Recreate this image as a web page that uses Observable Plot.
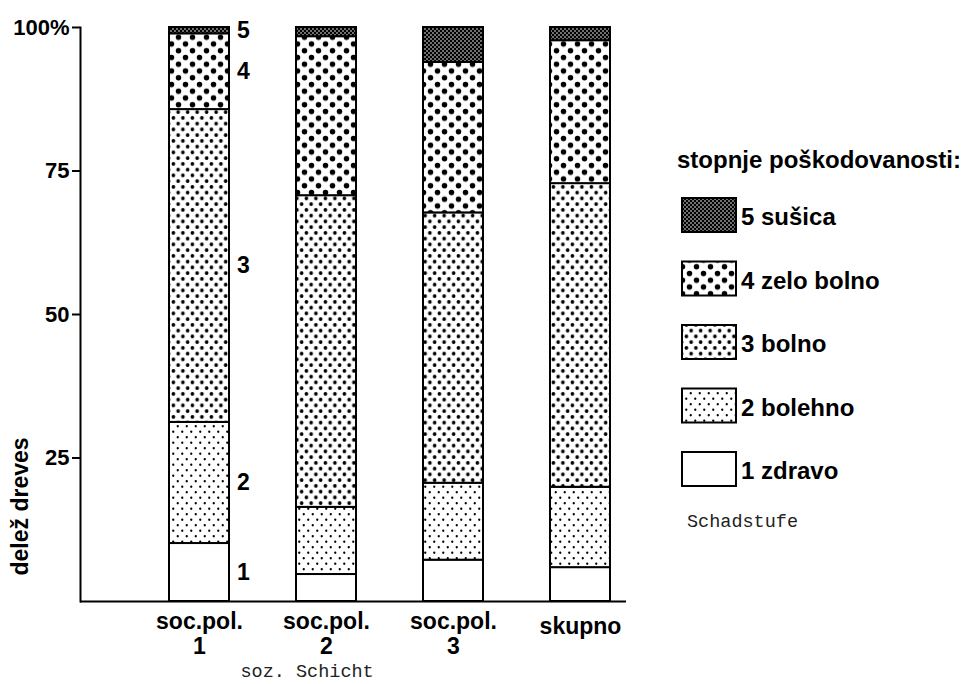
<!DOCTYPE html>
<html><head><meta charset="utf-8">
<script src="https://cdn.jsdelivr.net/npm/d3@7"></script>
<script src="https://cdn.jsdelivr.net/npm/@observablehq/plot@0.6"></script>
<style>
html,body{margin:0;padding:0;background:#fff;}
#wrap{position:relative;width:967px;height:684px;overflow:hidden;background:#fff;}
</style></head><body>
<div id="wrap"></div>
<script>
// ---- data ----
const categories = ["soc.pol. 1", "soc.pol. 2", "soc.pol. 3", "skupno"];
const stageCodes = ["1", "2", "3", "4", "5"];
const stageNames = ["1 zdravo", "2 bolehno", "3 bolno", "4 zelo bolno", "5 sušica"];
const stage1 = [10.1, 4.7, 7.2, 5.9];
const stage2 = [21.1, 11.7, 13.4, 14.0];
const stage3 = [54.5, 54.3, 47.1, 52.9];
const stage4 = [13.2, 27.7, 26.2, 24.9];
const stage5 = [1.1, 1.6, 6.1, 2.3];
const yTicks = [25, 50, 75, 100];
const yTickLabels = ["25", "50", "75", "100%"];
const yTitle = "delež dreves";
const xCaption = "soz. Schicht";
const legendTitle = "stopnje poškodovanosti:";
const legendNote = "Schadstufe";

const series = [stage1, stage2, stage3, stage4, stage5];
const rows = [];
categories.forEach((c, i) => series.forEach((s, j) => rows.push({category: c, stage: stageCodes[j], value: s[i]})));
const patternFills = stageCodes.map(s => `url(#pat${s})`);

// ---- dot-screen patterns ----
const wrap = document.getElementById("wrap");
wrap.insertAdjacentHTML("beforeend", `<svg width="0" height="0" style="position:absolute;left:0;top:0"><defs>
<pattern id="pat1" patternUnits="userSpaceOnUse" width="10" height="10"><rect width="10" height="10" fill="#fff"/></pattern>
<pattern id="pat2" patternUnits="userSpaceOnUse" width="9" height="11"><rect width="9" height="11" fill="#fff"/><circle cx="2.25" cy="2.75" r="1.15" fill="#000"/><circle cx="6.75" cy="8.25" r="1.15" fill="#000"/></pattern>
<pattern id="pat3" patternUnits="userSpaceOnUse" width="9.5" height="11.5"><rect width="9.5" height="11.5" fill="#fff"/><circle cx="2.4" cy="2.9" r="1.85" fill="#000"/><circle cx="7.15" cy="8.65" r="1.85" fill="#000"/></pattern>
<pattern id="pat4" patternUnits="userSpaceOnUse" width="14" height="13.5"><rect width="14" height="13.5" fill="#fff"/><circle cx="3.5" cy="3.4" r="2.75" fill="#000"/><circle cx="10.5" cy="10.15" r="2.75" fill="#000"/></pattern>
<pattern id="pat5" patternUnits="userSpaceOnUse" width="4" height="4"><rect width="4" height="4" fill="#000"/><circle cx="1" cy="1" r="0.8" fill="#fff"/><circle cx="3" cy="3" r="0.8" fill="#fff"/></pattern>
</defs></svg>`);

const boldFont = "'Liberation Sans', Arial, Helvetica, sans-serif";
const monoFont = "'Liberation Mono', 'Courier New', monospace";

const chart = Plot.plot({
  width: 967,
  height: 684,
  marginLeft: 80,
  marginRight: 341,
  marginTop: 27,
  marginBottom: 83,
  x: {domain: categories, range: [104.3, 673.7], paddingInner: 0.5288, paddingOuter: 0.5},
  y: {domain: [0, 100]},
  color: {domain: stageCodes, range: patternFills},
  style: {fontFamily: boldFont, color: "#000", background: "#fff", overflow: "visible"},
  marks: [
    Plot.barY(rows, {x: "category", y: "value", fill: "stage", stroke: "#000", strokeWidth: 2}),
    Plot.frame({anchor: "left", strokeWidth: 2}),
    Plot.ruleY([0], {strokeWidth: 2}),
    Plot.axisY({ticks: yTicks, tickFormat: d => yTickLabels[yTicks.indexOf(d)], tickSize: 8, tickPadding: 3,
      fontSize: 22, fontWeight: "bold", strokeWidth: 2, label: null}),
    Plot.axisX({ticks: categories.slice(0, 3), tickFormat: d => d.replace(" ", "\n"), tickSize: 0, tickPadding: 10,
      fontSize: 23, fontWeight: "bold", lineHeight: 1.09, label: null}),
    Plot.axisX({ticks: categories.slice(3), tickSize: 0, tickPadding: 16,
      fontSize: 23, fontWeight: "bold", label: null}),
    Plot.text(rows.filter(r => r.category === categories[0]),
      Plot.stackY({x: "category", y: "value", text: "stage", dx: 44, fontSize: 23, fontWeight: "bold"})),
    Plot.text([yTitle], {frameAnchor: "bottom-left", rotate: -90, textAnchor: "start", lineAnchor: "middle",
      dx: -60, dy: -26, fontSize: 23, fontWeight: "bold"}),
    Plot.text([xCaption], {frameAnchor: "bottom-left", textAnchor: "start", lineAnchor: "middle",
      dx: 160, dy: 70, fontSize: 18.5, fontFamily: monoFont, fill: "#222"})
  ]
});
wrap.appendChild(chart);

// ---- legend (overlay) ----
const lg = d3.select(wrap).append("svg")
  .attr("width", 967).attr("height", 684)
  .style("position", "absolute").style("left", "0px").style("top", "0px");
lg.append("text").attr("x", 677).attr("y", 168)
  .attr("font-family", boldFont).attr("font-weight", "bold").attr("font-size", 24).text(legendTitle);
const order = stageCodes.map((s, i) => i).reverse();
order.forEach((idx, k) => {
  const top = 198 + k * 63.5;
  lg.append("rect").attr("x", 682).attr("y", top).attr("width", 54).attr("height", 34)
    .attr("fill", patternFills[idx]).attr("stroke", "#000").attr("stroke-width", 2);
  lg.append("text").attr("x", 741).attr("y", top + 27)
    .attr("font-family", boldFont).attr("font-weight", "bold").attr("font-size", 24).text(stageNames[idx]);
});
lg.append("text").attr("x", 687).attr("y", 527)
  .attr("font-family", monoFont).attr("font-size", 18.5).attr("fill", "#222").text(legendNote);
</script>
</body></html>
